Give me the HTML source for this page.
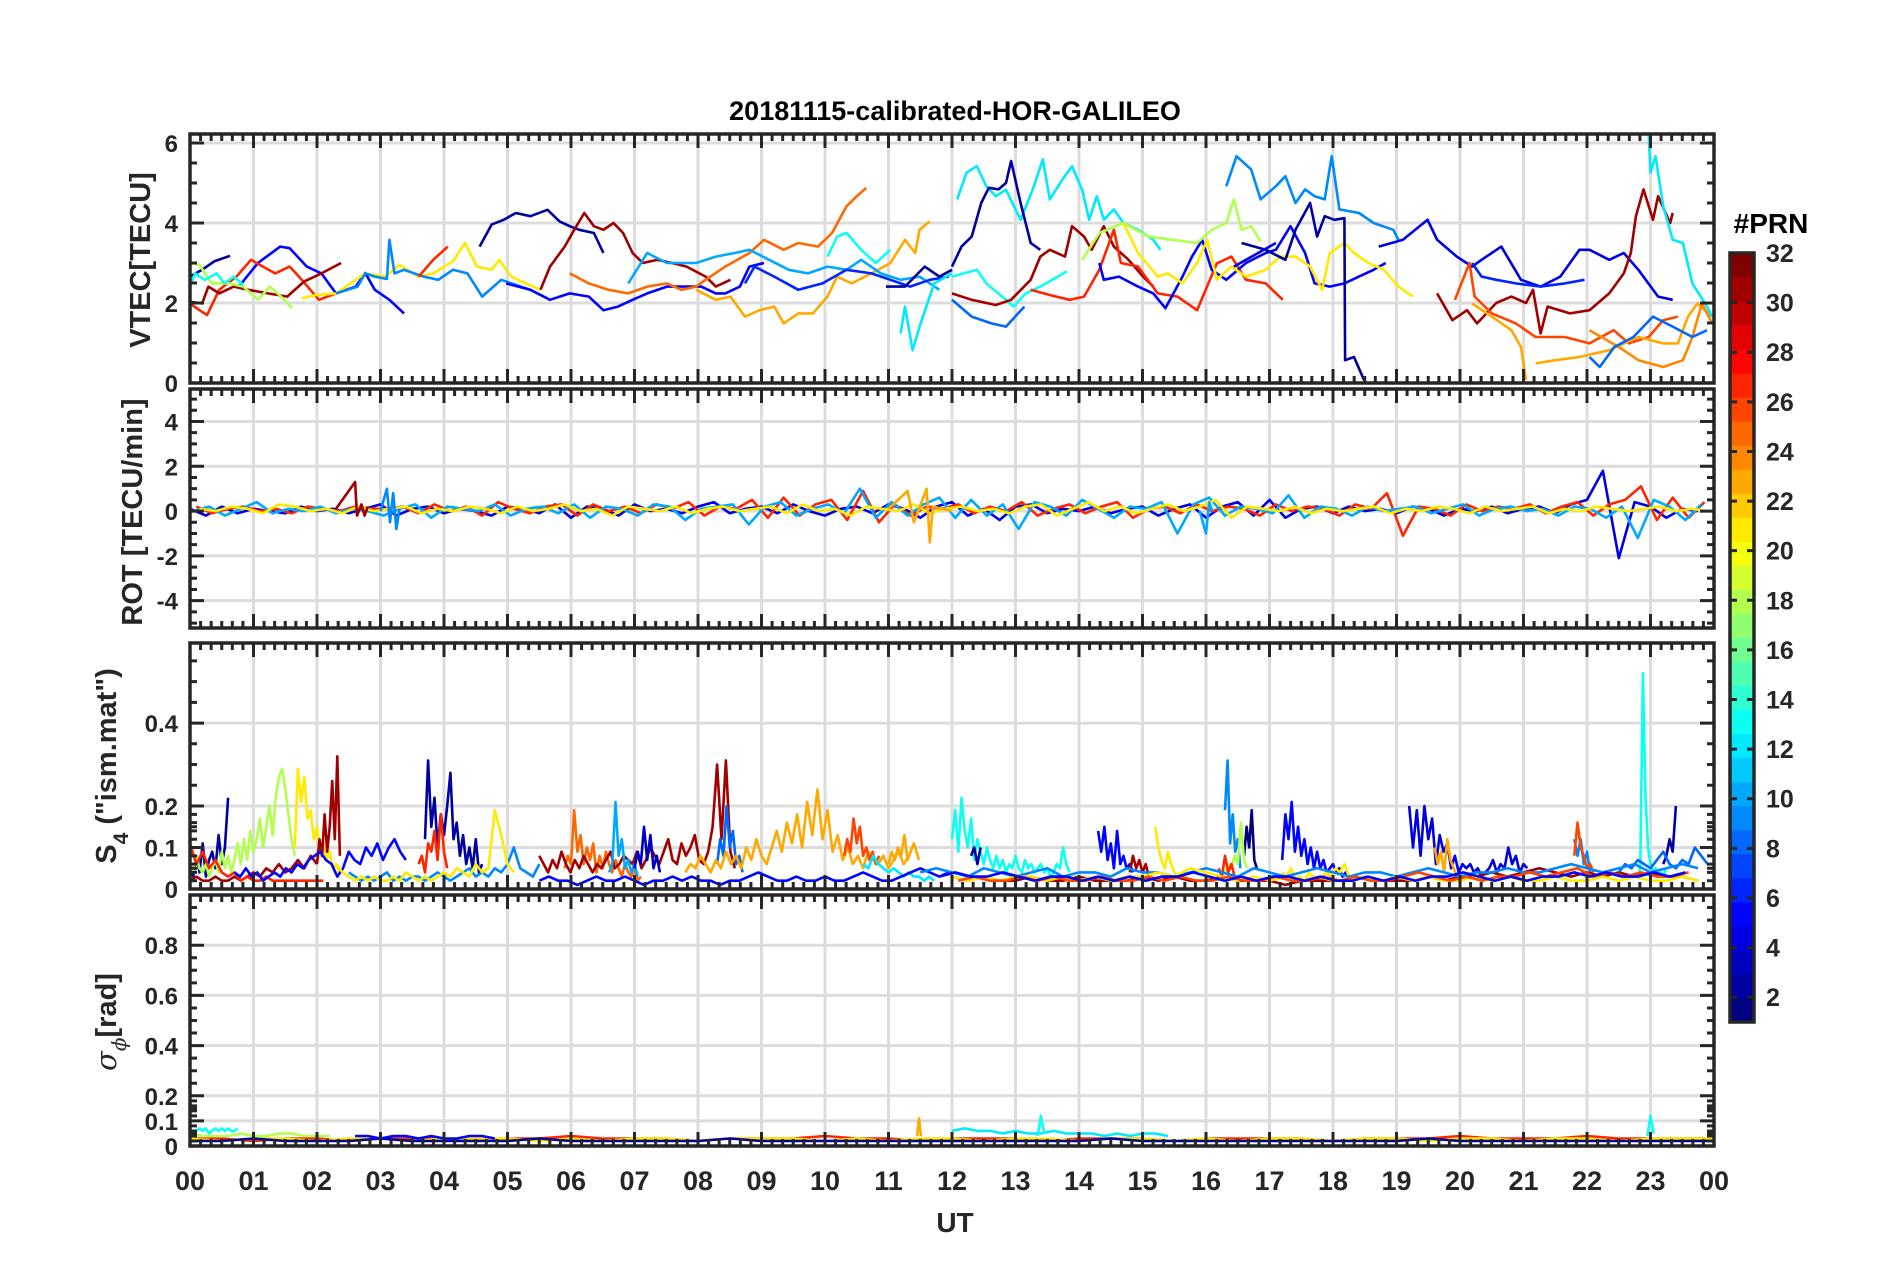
<!DOCTYPE html>
<html><head><meta charset="utf-8">
<style>
html,body{margin:0;padding:0;background:#fff;}
svg{display:block;font-family:"Liberation Sans",Arial,sans-serif;font-weight:bold;}
</style></head>
<body>
<svg id="chart" width="1902" height="1272" viewBox="0 0 1902 1272" xmlns="http://www.w3.org/2000/svg">
<rect x="0" y="0" width="1902" height="1272" fill="#fff"/>
<defs>
<clipPath id="c0"><rect x="190" y="134" width="1524" height="249"/></clipPath>
<clipPath id="c1"><rect x="190" y="389" width="1524" height="239"/></clipPath>
<clipPath id="c2"><rect x="190" y="643" width="1524" height="246"/></clipPath>
<clipPath id="c3"><rect x="190" y="895" width="1524" height="251"/></clipPath>
</defs>
<text x="955" y="120" font-size="27" text-anchor="middle" fill="#000">20181115-calibrated-HOR-GALILEO</text>
<text x="955" y="1232" font-size="28" text-anchor="middle" fill="#262626">UT</text>
<text transform="translate(150,260) rotate(-90)" font-size="29" text-anchor="middle" fill="#262626">VTEC[TECU]</text>
<text transform="translate(142,512) rotate(-90)" font-size="29" text-anchor="middle" fill="#262626">ROT [TECU/min]</text>
<text transform="translate(116,766) rotate(-90)" font-size="29" text-anchor="middle" fill="#262626">S<tspan font-size="21" dy="12">4</tspan><tspan dy="-12"> ("ism.mat")</tspan></text>
<text transform="translate(116,1022) rotate(-90)" font-size="29" text-anchor="middle" fill="#262626"><tspan font-family="DejaVu Serif,serif" font-style="italic" font-weight="normal">σ</tspan><tspan font-family="DejaVu Serif,serif" font-style="italic" font-weight="normal" font-size="20" dy="10">ϕ</tspan><tspan dy="-10">[rad]</tspan></text>
<text x="1771" y="233" font-size="28" text-anchor="middle" fill="#000">#PRN</text>
<g id="layer"></g>
</svg>
<script>
// ---------- data ----------
const hourLabels = ["00","01","02","03","04","05","06","07","08","09","10","11","12","13","14","15","16","17","18","19","20","21","22","23","00"];
const vtecTicks = [0,2,4,6];
const rotTicks = [-4,-2,0,2,4];
const s4Ticks = [0,0.1,0.2,0.4];
const sigTicks = [0,0.1,0.2,0.4,0.6,0.8];
const cbTicks = [2,4,6,8,10,12,14,16,18,20,22,24,26,28,30,32];

const vtecPrn = [2,5,27,31,18,13,21,9,27,2,31,5,25,23,10,6,13,12,2,
  12,2,13,8,31,27,5,18,21,9,2,4,4,6,31,26,23,23,24,8,12];
const vtecHours = [
 [0,0.19,0.38,0.63],
 [0.77,1.07,1.42,1.57,1.84,2.07,2.30,2.61,2.76,2.91,3.14,3.37],
 [0,0.15,0.27,0.46,0.73,0.96,1.15,1.34,1.57,1.76,2.03,2.30],
 [0,0.19,0.29,0.46,0.69,0.92,1.23,1.53,1.80,2.07,2.38],
 [0,0.15,0.34,0.61,0.84,1.07,1.26,1.46,1.61],
 [0,0.08,0.23,0.42,0.54,0.69,0.84],
 [1.76,1.99,2.30,2.76,3.07,3.30,3.60,3.83,4.14,4.33,4.52,4.75,4.87,5.06,5.29,5.52],
 [2.30,2.64,2.76,2.91,3.10,3.14,3.22,3.37,3.68,3.91,4.14,4.37,4.60,4.90,5.21,5.36],
 [3.60,3.83,4.06],
 [4.56,4.75,4.94,5.13,5.36,5.63,5.82,5.98,6.13,6.36,6.51],
 [5.52,5.67,5.90,6.05,6.21,6.36,6.51,6.67,6.82,6.97,7.13,7.36,7.59,7.82,8.12,8.28,8.51],
 [4.98,5.36,5.67,5.98,6.28,6.51,6.74,6.97,7.20,7.51,7.82,8.05,8.28,8.43,8.66,8.81,9.04],
 [5.98,6.28,6.59,6.90,7.20,7.51,7.74,7.97,8.12,8.43,8.81,9.04,9.35,9.58,9.89,10.11,10.34,10.50,10.65],
 [7.97,8.28,8.51,8.74,8.97,9.20,9.35,9.58,9.81,10.04,10.19,10.42,10.73,11.03,11.26,11.42,11.49,11.65],
 [6.90,7.20,7.51,7.97,8.28,8.58,8.81,9.12,9.43,9.73,10.04,10.34,10.57,10.88,11.19,11.49,11.80],
 [8.74,8.89,9.20,9.58,9.96,10.34,10.73,11.03,11.34,11.65,11.95],
 [10.04,10.19,10.34,10.57,10.80,11.03],
 [11.19,11.26,11.38,11.49,11.72,12.0],
 [10.96,11.26,11.57,11.80,12.0],
 [12.08,12.23,12.39,12.54,12.69,12.85,13.08,13.27,13.43,13.54,13.74,13.89,14.05,14.16,14.28,14.39,14.55,14.70,14.93,15.17,15.28],
 [12,12.15,12.31,12.46,12.58,12.73,12.85,12.93,13.08,13.24,13.39],
 [12,12.39,12.54,12.85,12.97,13.16,13.39,13.81],
 [12,12.31,12.62,12.85,13.14],
 [12,12.31,12.69,12.93,13.24,13.39,13.54,13.78,13.89,14.08,14.20,14.39,14.55,14.78,15.01,15.17],
 [13.24,13.54,13.85,14.08,14.32,14.55,14.66,14.93,15.24,15.55,15.86,16.17,16.40,16.63,16.94,17.21],
 [14.32,14.39,14.63,14.93,15.17,15.36,15.63,15.78,15.94,16.09,16.32,16.63,16.94,17.10,17.33,17.56,17.71,17.95,18.18,18.41,18.64,18.83],
 [14.05,14.32,14.70,15.09,15.47,15.86,16.09,16.32,16.44,16.56,16.71,16.86],
 [14.70,14.93,15.24,15.40,15.63,15.86,16.02,16.17,16.40,16.63,16.94,17.17,17.41,17.64,17.83,17.95,18.18,18.33,18.56,18.80,19.03,19.26],
 [16.32,16.48,16.71,16.86,17.10,17.25,17.41,17.56,17.71,17.87,17.98,18.10,18.41,18.64,18.95,19.03],
 [16.56,16.94,17.25,17.41,17.64,17.75,17.87,18.02,18.18,18.19,18.33,18.49],
 [16.44,17.10],
 [18.72,19.10,19.49,19.64,19.95,20.19,20.34,20.65,20.96,21.27,21.58,21.88,22.04,22.35,22.58,22.81,23.12,23.35],
 [20.19,20.34,20.57,20.88,21.27,21.65,21.96],
 [19.64,19.88,20.11,20.27,20.57,20.81,21.04,21.15,21.27,21.38,21.73,22.04,22.35,22.58,22.69,22.77,22.89,23.04,23.12,23.31,23.35],
 [19.92,20.15,20.23,20.50,20.88,21.19,21.65,22.04,22.42,22.66,22.97,23.20,23.43],
 [20.19,20.50,20.81,20.96,21.04],
 [21.19,21.50,21.88,22.35,22.81,23.20,23.43,23.59,23.74,23.97],
 [22.04,22.50,22.81,23.20,23.51,23.66,23.81,23.97],
 [22.04,22.20,22.43,22.73,23.04,23.35,23.66,23.89],
 [22.97,23.00,23.08,23.20,23.35,23.51,23.66,23.89,23.97]
];
const vtecValues = [
 [2.66,2.83,3.04,3.18],
 [2.41,3.0,3.41,3.37,2.91,2.74,2.24,2.41,2.75,2.33,2.08,1.74],
 [1.99,1.82,1.70,2.33,2.66,3.08,2.91,2.74,2.91,2.58,2.08,2.24],
 [2.03,1.99,2.41,2.24,2.41,2.33,2.24,2.16,2.54,2.74,3.0],
 [3.0,2.95,2.49,2.49,2.41,2.08,2.41,2.12,1.87],
 [2.41,2.74,2.58,2.74,2.49,2.66,2.45],
 [2.12,2.2,2.24,2.74,2.66,2.95,2.66,2.74,3.04,3.5,2.91,2.83,3.08,2.66,2.49,2.33],
 [2.24,2.41,2.74,2.66,2.6,3.58,2.74,2.83,2.66,2.58,2.83,2.74,2.16,2.58,2.41,2.33],
 [2.66,3.08,3.41],
 [3.41,3.96,4.08,4.25,4.17,4.33,4.04,3.92,3.83,3.75,3.25],
 [2.33,2.91,3.41,3.83,4.25,3.92,3.83,4.0,3.75,3.25,3.0,3.08,3.0,2.91,2.66,2.41,2.58],
 [2.49,2.33,2.08,2.24,2.16,1.82,1.91,2.08,2.24,2.41,2.41,2.41,2.24,2.24,2.41,2.91,3.0],
 [2.74,2.49,2.33,2.24,2.41,2.49,2.33,2.41,2.58,2.91,3.25,3.58,3.33,3.5,3.41,3.75,4.42,4.67,4.88],
 [2.33,2.08,2.16,1.66,1.82,1.91,1.49,1.74,1.74,2.16,2.66,2.49,2.74,3.0,3.58,3.25,3.83,4.04],
 [2.49,3.25,3.0,3.0,3.16,3.25,3.33,3.08,2.83,2.74,2.91,2.83,3.08,2.74,2.58,2.66,2.33],
 [2.49,2.91,2.66,2.33,2.49,2.83,2.74,2.58,2.41,2.58,2.66],
 [3.16,3.66,3.75,3.33,3.0,3.33],
 [1.24,1.91,0.82,1.41,2.49,2.74],
 [2.41,2.41,2.91,2.66,2.83],
 [4.59,5.26,5.42,4.92,4.67,4.83,4.08,4.83,5.59,4.59,5.09,5.42,4.83,4.08,4.67,4.08,4.34,4.0,3.83,3.58,3.33],
 [2.91,3.41,3.66,4.50,4.88,4.84,5.0,5.55,4.5,3.5,3.33],
 [2.66,2.83,2.49,2.08,1.91,2.24,2.41,2.79],
 [2.08,1.66,1.49,1.41,1.91],
 [2.24,2.08,1.95,2.08,2.58,3.16,3.33,3.16,3.92,3.66,3.33,3.92,3.41,3.08,2.66,2.41],
 [2.33,2.20,2.08,2.16,2.83,3.83,3.0,2.91,2.24,2.16,1.82,2.99,3.16,2.58,2.49,2.08],
 [3.0,2.58,2.66,2.41,2.24,1.87,2.66,3.16,3.58,2.83,2.58,3.0,3.25,3.33,3.92,3.25,2.49,2.41,2.49,2.66,2.83,3.0],
 [3.08,3.75,4.0,3.66,3.58,3.5,3.83,4.0,4.59,3.83,3.92,3.54],
 [4.0,3.25,2.66,2.74,2.49,3.0,3.58,2.58,2.91,2.66,2.83,3.16,3.16,2.91,2.33,3.25,3.5,3.25,3.0,2.83,2.41,2.16],
 [4.92,5.67,5.34,4.59,4.92,5.17,4.5,4.84,4.67,4.59,5.67,4.34,4.25,4.0,3.83,3.58],
 [3.5,3.33,3.08,3.83,4.5,3.66,4.17,4.08,4.12,0.57,0.65,0.07],
 [2.91,3.5],
 [3.41,3.58,4.08,3.58,3.16,2.91,3.08,3.41,2.58,2.41,2.66,3.33,3.33,3.08,3.25,2.83,2.16,2.08],
 [3.0,2.66,2.58,2.49,2.41,2.49,2.58],
 [2.24,1.57,1.82,1.49,2.0,2.16,2.0,2.33,1.24,1.91,1.74,1.82,2.24,2.74,3.25,4.17,4.84,4.08,4.67,4.0,4.25],
 [2.08,3.0,2.16,1.74,1.49,1.15,1.15,0.99,1.32,0.99,1.15,1.57,1.66],
 [1.99,1.66,1.32,0.90,0.07],
 [0.49,0.57,0.65,0.82,1.15,0.99,0.99,1.66,1.99,1.66],
 [1.32,0.9,0.57,0.40,0.57,1.15,1.99,1.49],
 [0.65,0.40,0.90,1.15,1.66,1.41,1.15,1.32],
 [6.26,5.26,5.67,4.42,3.58,3.5,2.49,1.91,1.66]
];

const rotPrn = [4,27,10,21];
const rotStart = [0,0.1,0.05,0.15];
const rotStep = [0.25,0.25,0.25,0.25];
const rotValues = [
 [0.1,-0.2,0.2,-0.1,0.1,0,-0.1,0.2,0,0.1,-0.1,0.1,0.3,-0.2,0.1,0.2,-0.1,0.1,0,-0.2,0.2,0.1,-0.1,0.3,
  -0.3,0.2,0.1,-0.2,0.3,0,0.1,-0.1,0.2,0.4,-0.1,0.1,0.2,-0.1,0.3,0,-0.2,0.1,0.2,-0.1,0.3,0.1,-0.3,0.2,
  0.4,-0.2,0.1,-0.4,0.2,0.3,-0.1,0.1,0,0.2,-0.1,0.1,0.2,-0.2,0.1,0.3,-0.3,0.2,0.4,-0.2,0.5,-0.3,0.1,0.2,
  -0.1,0.2,0,0.1,-0.1,0.2,0.1,-0.2,0.1,0,0.2,-0.1,0.1,0.2,-0.1,0.3,0.5,1.8,-2.1,0.4,0.2,-0.3,0.1,0],
 [0.2,-0.1,0.1,0.2,0,0.1,-0.1,0.2,0.1,0,0.2,0.1,0.1,0.2,-0.1,0.3,0,0.2,-0.2,0.4,0.1,-0.1,0.2,0.3,
  -0.2,0.3,0,0.2,-0.1,0.3,0.1,0.4,-0.2,0.2,0.1,0.5,-0.3,0.6,-0.2,0.3,0.5,-0.4,0.9,-0.5,0.3,-0.2,0.2,0.1,
  0.3,-0.1,0.2,0,0.4,-0.2,0.1,0.3,-0.1,0.2,0.4,-0.3,0.1,0.2,-0.1,0.3,0,0.2,0.1,-0.2,0.3,0,0.2,0.1,
  -0.2,0.3,0.1,0.8,-1.1,0.2,0.1,-0.2,0.3,0,0.2,0.1,0.3,-0.1,0.2,0.4,-0.2,0.3,0.5,1.1,-0.4,0.6,-0.3,0.4],
 [0,0.2,-0.2,0.1,0.4,-0.1,0.1,0,0.2,-0.1,0.1,0,-0.2,0.1,0.3,-0.3,0.2,0.1,0,0.3,-0.2,0.1,0.2,-0.1,
  0.3,-0.3,0.2,0.1,-0.2,0.3,0.2,-0.4,0.1,0.2,0.3,-0.6,0.2,0.4,-0.2,0.1,0.3,-0.1,1.0,-0.3,0.4,-0.2,0.3,0.6,
  -0.3,0.5,-0.2,0.3,-0.8,0.4,0.2,-0.2,0.5,0.1,-0.3,0.2,0.1,0.4,-1.0,0.3,0.6,-0.2,0.2,0.1,-0.1,0.7,-0.3,0.2,
  0.1,-0.2,0.2,0,0.1,0.2,-0.1,0.1,0.3,-0.2,0.1,0.2,0,0.1,-0.2,0.2,0.1,-0.3,0.2,-1.2,0.5,0.2,-0.4,0.3],
 [0.1,0,0.2,0.1,-0.1,0.3,0.2,0,0.1,-0.1,0.2,0,0.1,0.2,-0.1,0.1,0,0.2,0.1,-0.1,0.2,0,0.1,0.3,
  0,0.1,-0.2,0.2,0.1,0,0.2,-0.1,0.1,0.2,0,0.1,0.2,-0.1,0.3,0,0.1,-0.2,0.2,0.1,0,0.3,-0.1,0.1,
  0.2,0,0.1,-0.1,0.2,0.3,-0.2,0.1,0.4,0,0.2,-0.1,0.1,0.3,0,0.2,0.5,-0.3,0.2,0.1,0,0.2,-0.1,0.1,
  0,0.1,0.2,-0.1,0.1,0,0.2,0.1,-0.1,0.2,0,0.1,0.2,-0.1,0.1,0,0.2,0.1,0,0.1,0.2,0,0.1,0]
];
const rotSpikePrn = [31,9,23,10];
const rotSpikeHours = [[2.3,2.6,2.63,2.7,2.75,2.8],[3.0,3.1,3.15,3.2,3.25,3.3],[11.0,11.3,11.4,11.6,11.65,11.7,12.0],[15.9,16.0,16.05,16.1]];
const rotSpikeValues = [[0.1,1.3,-0.2,0.3,-0.2,0.2],[0,1.0,-0.5,0.8,-0.8,0.1],[0.1,0.9,-0.5,1.0,-1.4,0.2,0],[0,-1.0,0.4,0]];

const s4Prn = [2,18,21,31,31,27,5,2,27,9,21,25,31,10,3,8,23,26,12,23,5,13,2,5,21,31,9,1,18,27,5,21,4,23,9,26,13,2,31,8,9,21,26,5];
const s4Start = [0,0,1.65,0,2.0,0,0.7,3.7,3.6,2.5,2.3,5.9,5.5,6.6,7.0,8.3,7.8,10.3,10.6,11.0,5.5,12,12.3,14.3,15.2,14.8,16.3,16.6,16.3,16.2,17.2,17.2,19.2,19.6,21.8,21.8,22.8,23.2,12,22.5,11.5,12,12.1,11.8];
const s4Step = [0.05,0.05,0.05,0.1,0.04,0.1,0.09,0.05,0.05,0.1,0.1,0.05,0.07,0.05,0.05,0.05,0.08,0.05,0.08,0.05,0.15,0.05,0.05,0.05,0.05,0.05,0.04,0.04,0.05,0.05,0.05,0.07,0.06,0.05,0.05,0.05,0.04,0.05,0.25,0.1,0.25,0.25,0.25,0.25];
const s4Values = [
 [.05,.03,.08,.04,.11,.03,.07,.09,.05,.13,.06,.10,.22],
 [.06,.04,.08,.05,.04,.06,.03,.05,.07,.04,.09,.05,.08,.04,.07,.11,.06,.12,.07,.14,.09,.12,.17,.10,.15,.20,.13,.22,.27,.29,.24,.18,.12,.08],
 [.10,.29,.21,.27,.17,.19,.12,.15,.08,.11,.07,.09,.05,.06,.04],
 [.02,.03,.02,.02,.03,.02,.02,.03,.02,.03,.04,.03,.05,.04,.06,.04,.05,.07,.05,.08,.06],
 [.06,.12,.08,.18,.09,.15,.26,.12,.32,.08],
 [.11,.06,.09,.05,.07,.04,.03,.04,.02,.03,.02,.02,.03,.02,.02,.02,.02,.02,.02,.02,.02,.02],
 [.04,.03,.05,.03,.04,.02,.03,.04,.03,.05,.04,.06,.05,.07,.08,.09,.07,.06,.03,.05,.09,.07,.06,.10,.08,.11,.07,.10,.12,.09,.07],
 [.12,.31,.15,.22,.10,.18,.13,.20,.28,.12,.16,.08,.13,.06,.10,.05,.12,.04,.06],
 [.06,.08,.04,.11,.09,.14,.07,.18,.09,.05],
 [.04,.03,.02,.03,.02,.03,.04,.02,.03,.02,.03,.03,.02,.03,.04,.03,.02,.03,.04,.05,.03,.04,.03,.05,.04,.06,.10,.05,.04,.03,.06],
 [.06,.04,.03,.02,.03,.02,.03,.02,.02,.03,.02,.04,.03,.02,.03,.02,.03,.04,.03,.05,.04,.03,.06,.04,.05,.19,.13,.06,.04],
 [.05,.08,.06,.19,.09,.13,.06,.10,.07,.11,.04,.08,.05,.09,.06,.04,.07,.05,.03,.06,.04,.03,.05,.02,.03],
 [.08,.06,.04,.07,.05,.09,.06,.04,.07,.05,.08,.06,.04,.06,.05,.07,.09,.05,.06,.08,.07,.06,.09,.05,.07,.10,.08,.06,.09,.12,.07,.06,.11,.08,.10,.13,.07,.06,.09,.15,.30,.12,.31,.09,.05],
 [.04,.06,.21,.08,.12,.05,.07,.04,.06,.03],
 [.05,.09,.06,.15,.07,.13,.05,.08,.04],
 [.06,.12,.08,.20,.10,.14,.06,.08,.04],
 [.04,.06,.05,.08,.06,.04,.07,.05,.09,.06,.08,.05,.10,.07,.12,.08,.06,.10,.14,.09,.16,.11,.18,.10,.21,.13,.24,.12,.19,.09,.13,.07,.10,.06,.08,.05,.09,.07,.06,.08,.05,.07,.09,.06,.08,.11,.07],
 [.08,.12,.09,.17,.11,.15,.08,.10,.07,.09,.06,.08],
 [.06,.05,.08,.06,.05,.04,.05,.04,.03,.04,.03,.03,.02,.03,.02],
 [.06,.09,.07,.10,.08,.13,.07,.09],
 [.02,.03,.02,.02,.01,.02,.03,.02,.02,.03,.02,.01,.02,.02,.03,.02,.03,.02,.02,.01,.02,.02,.03,.04,.03,.02,.02,.03,.02,.02,.03,.02,.02,.03,.04,.03,.02,.02,.03,.04,.05,.04,.03,.04],
 [.12,.19,.09,.22,.14,.10,.17,.07,.12,.09,.06,.10,.07,.05,.08,.05,.07,.04,.06,.05,.08,.05,.04,.07,.05,.06,.04,.05,.06,.04,.05,.03,.04,.06,.05,.10,.06,.04],
 [.08,.10,.06,.10],
 [.14,.09,.15,.07,.11,.05,.14,.06,.08,.05,.06,.04],
 [.15,.10,.07,.05,.09,.06,.04,.03],
 [.04,.08,.05,.07,.04,.06,.03],
 [.19,.31,.11,.18,.09,.12,.05],
 [.08,.15,.10,.19,.07,.05],
 [.04,.06,.05,.08,.06,.16,.07,.05],
 [.05,.03,.08,.04,.06,.03],
 [.07,.18,.12,.21,.09,.15,.08,.12,.06,.10,.05,.09,.05,.07,.04,.05,.06,.04,.05,.03,.04,.03],
 [.04,.03,.05,.02,.03,.02,.04,.03,.02,.03,.04,.03,.05,.04,.06,.03],
 [.20,.10,.19,.08,.20,.12,.17,.06,.13,.09,.11,.05,.08,.04,.06,.05,.06,.04,.05,.03,.04,.05,.07,.04,.06,.05,.10,.06,.08,.04,.06,.05],
 [.10,.06,.09,.04,.12,.07,.05,.03],
 [.12,.08,.12,.06,.09,.04,.03],
 [.08,.16,.10,.08,.05,.06,.04],
 [.03,.05,.52,.23,.10,.06,.04,.05,.03,.04,.03,.05],
 [.06,.08,.12,.09,.20],
 [.03,.02,.03,.02,.02,.03,.02,.02,.03,.02,.02,.02,.03,.02,.03,.02,.02,.03,.02,.02,.02,.01,.02,.02,.02,.02,.03,.02,.02,.02,.03,.02,.03,.03,.04,.03,.04,.05,.04,.03,.04,.03,.04,.03,.04,.03,.03,.02],
 [.04,.06,.05,.07,.06,.05,.07,.09,.06,.05,.07,.06,.10,.08,.06],
 [.04,.05,.04,.03,.05,.04,.03,.04,.05,.03,.04,.04,.03,.05,.04,.04,.03,.04,.05,.04,.03,.05,.04,.03,.04,.05,.04,.03,.04,.04,.03,.04,.05,.04,.03,.04,.04,.05,.04,.04,.05,.06,.05,.04,.05,.06,.04,.05,.06,.05],
 [.03,.02,.03,.02,.03,.03,.02,.03,.02,.03,.02,.03,.03,.04,.03,.05,.04,.03,.02,.03,.02,.03,.02,.03,.02,.02,.03,.02,.03,.02,.03,.02,.02,.03,.02,.03,.02,.02,.03,.02,.02,.03,.02,.03,.02,.02,.03,.02],
 [.02,.03,.02,.02,.03,.02,.03,.02,.02,.03,.02,.02,.03,.02,.03,.02,.02,.03,.02,.02,.03,.02,.02,.03,.02,.03,.02,.02,.03,.04,.03,.02,.03,.02,.03,.03,.04,.03,.04,.05,.03,.04,.03,.04,.03,.03,.04],
 [.03,.04,.03,.03,.04,.03,.02,.03,.03,.02,.03,.02,.03,.02,.03,.03,.04,.03,.02,.03,.02,.03,.03,.02,.03,.02,.02,.03,.02,.03,.02,.03,.03,.04,.03,.02,.03,.02,.03,.03,.04,.03,.04,.03,.03,.04,.03,.04]
];

const sigPrn = [27,21,2,13,18,5,12,13,23,13];
const sigStart = [0,0,0,0,0,2.6,12,13.35,11.45,22.95];
const sigStep = [0.5,0.5,0.5,0.05,0.2,0.2,0.2,0.05,0.03,0.05];
const sigValues = [
 [.03,.03,.02,.03,.03,.02,.03,.03,.03,.02,.03,.03,.04,.03,.03,.03,.02,.03,.03,.03,.04,.03,.03,.02,.03,.03,.03,.02,.03,.03,.03,.02,.03,.03,.03,.03,.02,.03,.03,.03,.04,.03,.03,.03,.04,.03,.03,.03,.03],
 [.03,.02,.03,.03,.02,.03,.03,.02,.03,.03,.03,.02,.03,.02,.03,.03,.02,.03,.03,.03,.02,.03,.02,.03,.03,.02,.03,.03,.02,.03,.03,.02,.03,.02,.03,.03,.02,.03,.03,.02,.03,.03,.02,.03,.03,.02,.03,.03,.03],
 [.02,.02,.03,.02,.02,.02,.03,.02,.02,.02,.02,.03,.02,.02,.02,.02,.02,.03,.02,.02,.02,.02,.02,.02,.02,.02,.02,.02,.02,.03,.02,.02,.02,.02,.02,.02,.02,.02,.02,.03,.02,.02,.02,.02,.02,.02,.02,.02,.02],
 [.06,.05,.06,.07,.06,.07,.05,.06,.07,.06,.07,.06,.07,.06,.06,.07],
 [.05,.04,.04,.04,.05,.04,.04,.05,.05,.04,.04,.04],
 [.04,.04,.03,.04,.04,.03,.04,.03,.03,.04,.04,.03],
 [.06,.07,.06,.06,.05,.06,.05,.05,.06,.05,.05,.05,.04,.05,.04,.05,.05,.04],
 [.04,.12,.05],
 [.04,.11,.04],
 [.04,.12,.05]
];

// ---------- layout ----------
const X0 = 190, X1 = 1714;
const panels = [
 {name:"vtec", top:134, bot:383, min:0, max:6.225, major:vtecTicks, minorStep:0.5, clip:"c0"},
 {name:"rot", top:389, bot:628, min:-5.22, max:5.45, major:rotTicks, minorStep:0.5, clip:"c1"},
 {name:"s4", top:643, bot:889, min:0, max:0.593, major:s4Ticks, minorStep:0.05, fine:0.02, clip:"c2"},
 {name:"sigma-phi", top:895, bot:1146, min:0, max:1.0, major:sigTicks, minorStep:0.05, fine:0.02, clip:"c3"}
];
const xs = h => X0 + (X1 - X0) * h / 24;
function ys(p, v){ return p.bot - (p.bot - p.top) * (v - p.min) / (p.max - p.min); }
function jet(prn){
  const t = (prn - 1) / 31;
  const c = a => Math.round(255 * Math.max(0, Math.min(1, 1.5 - Math.abs(4 * t - a))));
  return "rgb(" + c(3) + "," + c(2) + "," + c(1) + ")";
}
const NS = "http://www.w3.org/2000/svg";
const layer = document.getElementById("layer");
function mk(tag, attrs, parent){
  const e = document.createElementNS(NS, tag);
  for (const k in attrs) e.setAttribute(k, attrs[k]);
  (parent || layer).appendChild(e);
  return e;
}
const DARK = "#262626";

panels.forEach((p, pi) => {
  const g = mk("g", {});
  
  
  for (let h = 1; h < 24; h++) {
    const l = mk("line", {x1:xs(h), x2:xs(h), y1:p.top, y2:p.bot, stroke:"#dcdcdc", "stroke-width":3}, g);
    
    
  }
  p.major.forEach(v => {
    const l = mk("line", {x1:X0, x2:X1, y1:ys(p,v), y2:ys(p,v), stroke:"#dcdcdc", "stroke-width":3}, g);
    
    
  });
  p.g = g;
});

function poly(p, hrs, vals, prn, name){
  const pts = hrs.map((h, i) => xs(h).toFixed(1) + "," + ys(p, vals[i]).toFixed(1)).join(" ");
  const e = mk("polyline", {points:pts, fill:"none", stroke:jet(prn), "stroke-width":2.6, "stroke-linejoin":"round", "clip-path":"url(#" + p.clip + ")"}, p.g);
  
  
}
vtecPrn.forEach((prn, i) => poly(panels[0], vtecHours[i], vtecValues[i], prn, 'vtec-trace-prn' + prn));
rotPrn.forEach((prn, i) => poly(panels[1], rotValues[i].map((_, k) => rotStart[i] + k * rotStep[i]), rotValues[i], prn, 'rot-trace-prn' + prn));
rotSpikePrn.forEach((prn, i) => poly(panels[1], rotSpikeHours[i], rotSpikeValues[i], prn, 'rot-trace-prn' + prn));
s4Prn.forEach((prn, i) => poly(panels[2], s4Values[i].map((_, k) => s4Start[i] + k * s4Step[i]), s4Values[i], prn, 's4-trace-prn' + prn));
sigPrn.forEach((prn, i) => poly(panels[3], sigValues[i].map((_, k) => sigStart[i] + k * sigStep[i]), sigValues[i], prn, 'sigma-trace-prn' + prn));

panels.forEach(p => {
  const g = p.g;
  let d = "";
  for (let m = 0; m <= 24 * 6; m++) {
    const x = xs(m / 6);
    const len = (m % 6 === 0) ? 14 : 7;
    d += "M" + x + "," + p.bot + "v-" + len + "M" + x + "," + p.top + "v" + len;
  }
  const ticks = [];
  const start = Math.ceil(p.min / p.minorStep) * p.minorStep;
  for (let v = start; v <= p.max + 1e-9; v += p.minorStep) ticks.push(v);
  if (p.fine) for (let v = 0; v < 0.2 - 1e-9; v += p.fine) ticks.push(v);
  ticks.forEach(v => {
    const y = ys(p, v);
    const isMajor = p.major.some(m => Math.abs(m - v) < 1e-6);
    const len = isMajor ? 14 : 7;
    d += "M" + X0 + "," + y + "h" + len + "M" + X1 + "," + y + "h-" + len;
  });
  const t = mk("path", {d:d, stroke:DARK, "stroke-width":3, fill:"none"}, g);
  
  
  const f = mk("rect", {x:X0, y:p.top, width:X1 - X0, height:p.bot - p.top, fill:"none", stroke:DARK, "stroke-width":3.5}, g);
  
  
  p.major.forEach(v => {
    const tx = mk("text", {x:178, y:ys(p, v) + 9, "font-size":24, "text-anchor":"end", fill:DARK}, g);
    tx.textContent = String(v);
    
    
  });
});

hourLabels.forEach((lab, i) => {
  const tx = mk("text", {x:xs(i), y:1190, "font-size":27, "text-anchor":"middle", fill:DARK});
  tx.textContent = lab;
  
  
});

const CB = {x:1730, w:24, top:253, bot:1022, min:1, max:32};
const cbg = mk("g", {});


const bh = (CB.bot - CB.top) / 32;
for (let k = 1; k <= 32; k++) {
  const r = mk("rect", {x:CB.x, y:CB.bot - k * bh, width:CB.w, height:bh + 0.6, fill:jet(k)}, cbg);
  
  
}
const cby = v => CB.top + (CB.max - v) * (CB.bot - CB.top) / (CB.max - CB.min);
let cd = "";
cbTicks.forEach(v => {
  cd += "M" + (CB.x + CB.w) + "," + cby(v) + "h-7M" + CB.x + "," + cby(v) + "h7";
  const tx = mk("text", {x:1766, y:cby(v) + 9, "font-size":25, fill:DARK}, cbg);
  tx.textContent = String(v);
  
  
});
const cbt = mk("path", {d:cd, stroke:DARK, "stroke-width":3}, cbg);


const cbf = mk("rect", {x:CB.x, y:CB.top, width:CB.w, height:CB.bot - CB.top, fill:"none", stroke:DARK, "stroke-width":3.5}, cbg);


</script>
</body></html>
